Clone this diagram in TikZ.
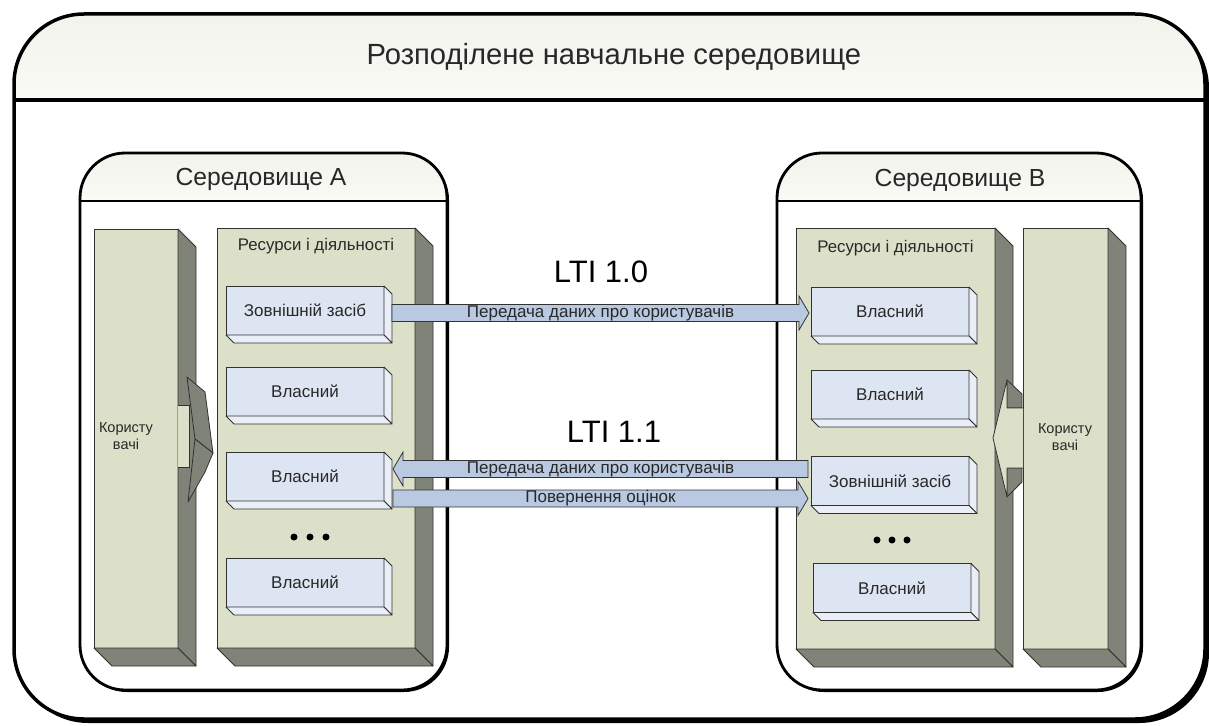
\documentclass[tikz,border=0pt]{standalone}
\usepackage{fontspec}
\setmainfont{Liberation Sans}
\usetikzlibrary{calc}
\definecolor{panelfront}{RGB}{221,224,201}
\definecolor{panelside}{RGB}{128,131,120}
\definecolor{blockfront}{RGB}{222,229,242}
\definecolor{blockside}{RGB}{233,238,247}
\definecolor{flowfill}{RGB}{185,201,225}
\definecolor{edgecol}{RGB}{50,50,50}
\definecolor{txt}{RGB}{40,40,40}
\definecolor{hdrtop}{RGB}{243,243,236}
\definecolor{hdrbot}{RGB}{250,250,246}
\tikzset{
  panelnode/.style={fill=panelfront, draw=edgecol, line width=0.8pt, inner sep=0pt, outer sep=0pt},
  panelsidestyle/.style={fill=panelside, draw=edgecol, line width=0.8pt, line join=round},
  blockf/.style={fill=blockfront, draw=edgecol, line width=1pt, minimum width=158pt, minimum height=49pt,
    inner sep=0pt, outer sep=0pt, font=\fontsize{17}{20}\selectfont, text=txt},
  blocksidestyle/.style={fill=blockside, draw=edgecol, line width=0.8pt, line join=round},
  flow/.style={fill=flowfill, draw=edgecol, line width=0.8pt},
  flowtxt/.style={font=\fontsize{17}{19}\selectfont, text=txt, inner sep=0pt},
  smalltxt/.style={font=\fontsize{16.8}{19}\selectfont, text=txt, inner sep=0pt},
  usertxt/.style={font=\fontsize{14.5}{16.5}\selectfont, text=txt, inner sep=0pt, align=center},
  envtxt/.style={font=\fontsize{24.7}{28}\selectfont, text=txt, inner sep=0pt},
  ltitxt/.style={font=\fontsize{31}{34}\selectfont, text=black, inner sep=0pt},
}
\newcommand\mkdepth[3]{% node, depth, style
  \filldraw[#3] (#1.north east) -- ++(#2,#2) -- ($(#1.south east)+(#2,#2)$) -- (#1.south east) -- cycle;
  \filldraw[#3] (#1.south west) -- (#1.south east) -- ++(#2,#2) -- ($(#1.south west)+(#2,#2)$) -- cycle;}
\newcommand\flowR[4]{% start, tip, label, name
  \filldraw[flow] ($(#1)+(0,-8.5)$) -- ($(#2)+(-10,-8.5)$) -- ($(#2)+(-10,-17)$) -- (#2)
     -- ($(#2)+(-10,17)$) -- ($(#2)+(-10,8.5)$) -- ($(#1)+(0,8.5)$) -- cycle;
  \path (#1) -- node[flowtxt] (#4) {#3} (#2);}
\newcommand\flowL[4]{% start, tip, label, name
  \filldraw[flow] ($(#1)+(0,-8.5)$) -- ($(#2)+(10,-8.5)$) -- ($(#2)+(10,-17)$) -- (#2)
     -- ($(#2)+(10,17)$) -- ($(#2)+(10,8.5)$) -- ($(#1)+(0,8.5)$) -- cycle;
  \path (#1) -- node[flowtxt] (#4) {#3} (#2);}
\begin{document}
\begin{tikzpicture}[x=1pt,y=-1pt]
\useasboundingbox (0,0) rectangle (1209,725);

% outer frame
\fill[black, rounded corners=70pt] (18,18) rectangle (1209,723);
\begin{scope}
  \clip[rounded corners=70pt] (14,14) rectangle (1205,719);
  \fill[white] (14,14) rectangle (1205,719);
  \shade[top color=hdrtop, bottom color=hdrbot] (14,14) rectangle (1205,100);
\end{scope}
\draw[line width=3.5pt, rounded corners=70pt] (14,14) rectangle (1205,719);
\draw[line width=3.5pt] (14,100) -- (1205,100);
\node[font=\fontsize{29.2}{33}\selectfont, text=txt, inner sep=0pt] (title) at (614,57) {Розподілене навчальне середовище};

% environment A
\fill[black, rounded corners=45pt] (82,155) rectangle (449,692);
\begin{scope}
  \clip[rounded corners=45pt] (80,153) rectangle (447,690);
  \fill[white] (80,153) rectangle (447,690);
  \shade[top color=hdrtop, bottom color=hdrbot] (80,153) rectangle (447,201);
\end{scope}
\draw[line width=2.8pt, rounded corners=45pt] (80,153) rectangle (447,690);
\draw[line width=2.5pt] (80,201) -- (447,201);
\node[envtxt] (envA) at (261,179) {Середовище A};

% environment B
\fill[black, rounded corners=45pt] (779,155) rectangle (1143,692);
\begin{scope}
  \clip[rounded corners=45pt] (777,153) rectangle (1141,690);
  \fill[white] (777,153) rectangle (1141,690);
  \shade[top color=hdrtop, bottom color=hdrbot] (777,153) rectangle (1141,201);
\end{scope}
\draw[line width=2.8pt, rounded corners=45pt] (777,153) rectangle (1141,690);
\draw[line width=2.5pt] (777,201) -- (1141,201);
\node[envtxt] (envB) at (960,180) {Середовище B};

% panels
\node[panelnode, minimum width=84pt, minimum height=419pt] (lu) at (136,438.5) {};
\mkdepth{lu}{18}{panelsidestyle}
\node[panelnode, minimum width=198pt, minimum height=420pt] (lr) at (316,438) {};
\mkdepth{lr}{18}{panelsidestyle}
\node[panelnode, minimum width=199pt, minimum height=421pt] (rr) at (895.5,438.5) {};
\mkdepth{rr}{18}{panelsidestyle}
\node[panelnode, minimum width=85pt, minimum height=421pt] (ru) at (1065.5,438.5) {};
\mkdepth{ru}{18}{panelsidestyle}

\node[smalltxt] (lrl) at ($(lr.north)+(0,18)$) {Ресурси і діяльності};
\node[smalltxt] (rrl) at ($(rr.north)+(0,20)$) {Ресурси і діяльності};
\node[usertxt] (lul) at (126,436) {Користу\\вачі};
\node[usertxt] (rul) at (1065,437) {Користу\\вачі};

% left users arrow (pointing right)
\filldraw[fill=panelfront, draw=edgecol, line width=0.8pt] (178,405) -- (189,405) -- (189,467) -- (178,467);
\filldraw[panelsidestyle] (187,377) -- (205,392) -- (213,453) -- (195,439) -- cycle;
\filldraw[panelsidestyle] (195,439) -- (213,453) -- (205,472) -- (188,502) -- cycle;

% right users arrow (pointing left)
\filldraw[panelsidestyle] (1007,380) -- (1022,394) -- (1022,408) -- (1007,408) -- cycle;
\filldraw[panelsidestyle] (1007,468) -- (1022,468) -- (1022,482) -- (1007,497) -- cycle;
\filldraw[fill=panelfront, draw=edgecol, line width=0.8pt, line join=round]
  (1023,408) -- (1007,408) -- (1007,380) -- (993,438) -- (1007,497) -- (1007,468) -- (1023,468);

% blocks left
\node[blockf] (la1) at (305,310.5) {Зовнішній засіб};
\mkdepth{la1}{8}{blocksidestyle}
\node[blockf] (la2) at (305,391.5) {Власний};
\mkdepth{la2}{8}{blocksidestyle}
\node[blockf] (la3) at (305,476.5) {Власний};
\mkdepth{la3}{8}{blocksidestyle}
\node[blockf] (la4) at (305,582.5) {Власний};
\mkdepth{la4}{8}{blocksidestyle}

% blocks right
\node[blockf] (rb1) at (890,311.5) {Власний};
\mkdepth{rb1}{8}{blocksidestyle}
\node[blockf] (rb2) at (890,394.5) {Власний};
\mkdepth{rb2}{8}{blocksidestyle}
\node[blockf] (rb3) at (890,481) {Зовнішній засіб};
\mkdepth{rb3}{8}{blocksidestyle}
\node[blockf] (rb4) at (892,588) {Власний};
\mkdepth{rb4}{8}{blocksidestyle}

% ellipses
\foreach \x in {294,310,326} \fill[black] (\x,537) circle (3.5pt);
\foreach \x in {877,892,907} \fill[black] (\x,540) circle (3.5pt);

% LTI labels
\node[ltitxt] (lti0) at (601,272) {LTI 1.0};
\node[ltitxt] (lti1) at (614,432) {LTI 1.1};

% flow arrows
\coordinate (f1s) at ($(la1.east)+(8,2.5)$);
\coordinate (f1e) at ($(f1s -| rb1.west)+(-2,0)$);
\flowR{f1s}{f1e}{Передача даних про користувачів}{t1}
\coordinate (f2s) at ($(rb3.west)+(-3,-12)$);
\coordinate (f2e) at ($(f2s -| la3.east)+(9,0)$);
\flowL{f2s}{f2e}{Передача даних про користувачів}{t2}
\coordinate (f3s) at ($(la3.east)+(9,22)$);
\coordinate (f3e) at ($(f3s -| rb3.west)+(-3,0)$);
\flowR{f3s}{f3e}{Повернення оцінок}{t3}
\end{tikzpicture}
\end{document}
